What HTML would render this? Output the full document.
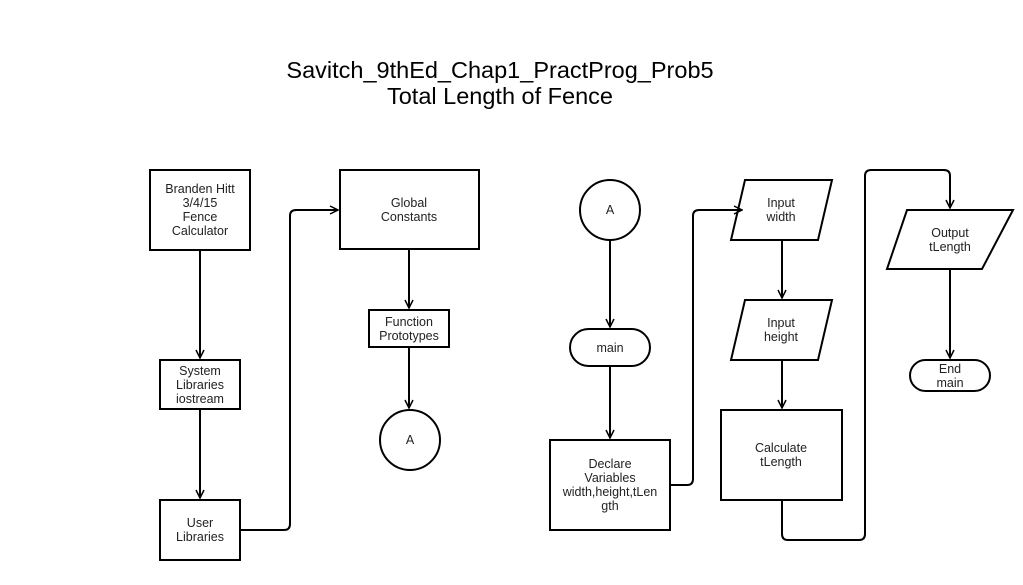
<!DOCTYPE html>
<html><head><meta charset="utf-8"><style>html,body{margin:0;padding:0;background:#fff}</style></head>
<body>
<svg width="1023" height="580" xmlns="http://www.w3.org/2000/svg" font-family="Liberation Sans, Arial, sans-serif">
<defs><marker id="a" viewBox="0 0 10 10" refX="9" refY="5" markerWidth="10" markerHeight="10" markerUnits="userSpaceOnUse" orient="auto"><path d="M1,1 L9,5 L1,9" fill="none" stroke="#000" stroke-width="1.5"/></marker></defs>
<rect width="1023" height="580" fill="#fff"/>
<text x="500" y="78" font-size="23.5" text-anchor="middle">Savitch_9thEd_Chap1_PractProg_Prob5</text>
<text x="500" y="104" font-size="23.5" text-anchor="middle">Total Length of Fence</text>
<g fill="none" stroke="#000" stroke-width="2">
<rect x="150" y="170" width="100" height="80"/>
<rect x="160" y="360" width="80" height="49"/>
<rect x="160" y="500" width="80" height="60"/>
<rect x="340" y="170" width="139" height="79"/>
<rect x="369" y="310" width="80" height="37"/>
<circle cx="410" cy="440" r="30"/>
<circle cx="610" cy="210" r="30"/>
<rect x="570" y="329" width="80" height="37" rx="18.5"/>
<rect x="550" y="440" width="120" height="90"/>
<polygon points="745,180 832,180 818,240 731,240"/>
<polygon points="745,300 832,300 818,360 731,360"/>
<rect x="721" y="410" width="121" height="90"/>
<polygon points="907,210 1013,210 982,269 887,269"/>
<rect x="910" y="360" width="80" height="31" rx="15.5"/>
<path d="M200,250 V358" marker-end="url(#a)"/>
<path d="M200,409 V498" marker-end="url(#a)"/>
<path d="M240,530 H284 Q290,530 290,524 V216 Q290,210 296,210 H338" marker-end="url(#a)"/>
<path d="M409,249 V308" marker-end="url(#a)"/>
<path d="M409,347 V408" marker-end="url(#a)"/>
<path d="M610,240 V327" marker-end="url(#a)"/>
<path d="M610,366 V438" marker-end="url(#a)"/>
<path d="M670,485 H687 Q693,485 693,479 V216 Q693,210 699,210 H742" marker-end="url(#a)"/>
<path d="M782,240 V298" marker-end="url(#a)"/>
<path d="M782,360 V408" marker-end="url(#a)"/>
<path d="M782,500 V534 Q782,540 788,540 H859 Q865,540 865,534 V176 Q865,170 871,170 H944 Q950,170 950,176 V208" marker-end="url(#a)"/>
<path d="M950,269 V358" marker-end="url(#a)"/>
</g>
<g font-size="12.5" text-anchor="middle" fill="#222">
<text x="200" y="193">Branden Hitt</text><text x="200" y="207">3/4/15</text><text x="200" y="221">Fence</text><text x="200" y="235">Calculator</text>
<text x="200" y="375">System</text><text x="200" y="389">Libraries</text><text x="200" y="403">iostream</text>
<text x="200" y="527">User</text><text x="200" y="541">Libraries</text>
<text x="409" y="207">Global</text><text x="409" y="221">Constants</text>
<text x="409" y="326">Function</text><text x="409" y="340">Prototypes</text>
<text x="410" y="444">A</text>
<text x="610" y="214">A</text>
<text x="610" y="352">main</text>
<text x="610" y="468">Declare</text><text x="610" y="482">Variables</text><text x="610" y="496">width,height,tLen</text><text x="610" y="510">gth</text>
<text x="781" y="207">Input</text><text x="781" y="221">width</text>
<text x="781" y="327">Input</text><text x="781" y="341">height</text>
<text x="781" y="452">Calculate</text><text x="781" y="466">tLength</text>
<text x="950" y="237">Output</text><text x="950" y="251">tLength</text>
<text x="950" y="373">End</text><text x="950" y="387">main</text>
</g>
</svg>
</body></html>
